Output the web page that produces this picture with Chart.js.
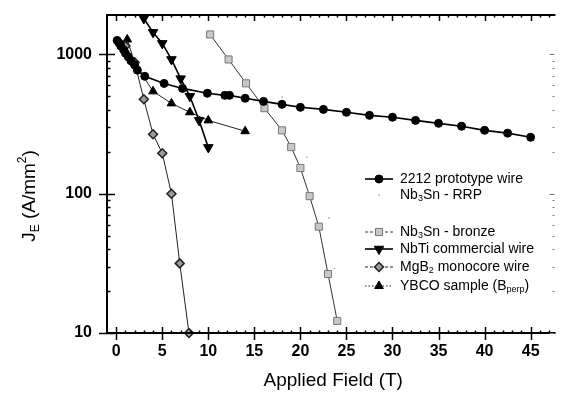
<!DOCTYPE html>
<html>
<head>
<meta charset="utf-8">
<script src="https://cdn.jsdelivr.net/npm/chart.js@4.4.1/dist/chart.umd.min.js"></script>
<style>
  html, body { margin: 0; padding: 0; background: #fff; }
  #wrap { width: 562px; height: 401px; position: relative; }
</style>
</head>
<body>
<div id="wrap"><canvas id="chartJe"></canvas></div>
<script>
// Valores: campo (T) y Je (A/mm2)
const fieldTicks = [0, 5, 10, 15, 20, 25, 30, 35, 40, 45];
const jeTicks = [10, 100, 1000];

const wire2212Field = [0.1, 0.3, 0.5, 0.8, 1.0, 1.3, 1.6, 2.0, 2.3, 3.1, 5.2, 7.2, 9.9, 11.8, 12.3, 14, 16, 18, 20, 22.5, 25, 27.5, 30, 32.5, 35, 37.5, 40, 42.5, 45];
const wire2212Je = [1260, 1210, 1150, 1080, 1020, 960, 900, 840, 770, 696, 619, 570, 526, 508, 508, 484, 460, 438, 417, 403, 384, 365, 354, 336, 320, 305, 285, 272, 254];

const rrpField = [18, 20.7, 23.1, 23.7, 24.1];
const rrpJe = [492, 183, 67, 29, 11.7];

const bronzeField = [10.2, 12.2, 14.1, 16.1, 18, 19, 20, 21, 22, 23, 24];
const bronzeJe = [1390, 920, 620, 411, 285, 216, 153, 96, 58, 26.5, 12.2];

const nbtiField = [3, 4, 5, 6, 7, 8, 9, 10];
const nbtiJe = [1810, 1440, 1200, 920, 670, 500, 336, 215];

const mgb2Field = [1, 2, 3, 4, 5, 6, 6.9, 7.9];
const mgb2Je = [1150, 876, 476, 267, 195, 100, 31.6, 10];

const ybcoField = [1.2, 2, 4, 6, 8, 10, 14];
const ybcoJe = [1280, 870, 543, 445, 384, 336, 281];

const FONT = 'Arial, "Liberation Sans", sans-serif';

function pts(xs, ys) {
    return xs.map((x, i) => ({ x: x, y: ys[i] }));
}

// texto con subíndices / superíndices: [texto, 'sub'|'sup'|null]
function drawRich(ctx, parts, x, y, size) {
    let cx = x;
    parts.forEach(function (p) {
        const small = p[1] ? Math.round(size * 0.62) : size;
        ctx.font = small + 'px ' + FONT;
        let dy = 0;
        if (p[1] === 'sub') dy = size * 0.28;
        if (p[1] === 'sup') dy = -size * 0.38;
        ctx.fillText(p[0], cx, y + dy);
        cx += ctx.measureText(p[0]).width;
    });
    return cx - x;
}
function richWidth(ctx, parts, size) {
    let w = 0;
    parts.forEach(function (p) {
        const small = p[1] ? Math.round(size * 0.62) : size;
        ctx.font = small + 'px ' + FONT;
        w += ctx.measureText(p[0]).width;
    });
    return w;
}

const datasets = [
    {
        label: '2212 prototype wire', data: pts(wire2212Field, wire2212Je),
        borderColor: '#000', backgroundColor: '#000', borderWidth: 1.6,
        pointStyle: 'circle', pointRadius: 4, pointBorderWidth: 1,
        legendDash: [], legendText: [['2212 prototype wire', null]]
    },
    {
        label: 'Nb3Sn - RRP', data: pts(rrpField, rrpJe), showLine: false,
        borderColor: '#bbb', backgroundColor: '#bbb', borderWidth: 0,
        pointStyle: 'circle', pointRadius: 1, pointBorderWidth: 0,
        legendNoLine: true, legendText: [['Nb', null], ['3', 'sub'], ['Sn - RRP', null]]
    },
    {
        label: 'Nb3Sn - bronze', data: pts(bronzeField, bronzeJe),
        borderColor: '#333', backgroundColor: '#c8c8c8', borderWidth: 1,
        pointStyle: 'rect', pointRadius: 5, pointBorderWidth: 1, pointBorderColor: '#777',
        legendDash: [3, 2], legendText: [['Nb', null], ['3', 'sub'], ['Sn - bronze', null]]
    },
    {
        label: 'NbTi commercial wire', data: pts(nbtiField, nbtiJe),
        borderColor: '#000', backgroundColor: '#000', borderWidth: 1.6,
        pointStyle: 'triangle', pointRotation: 180, pointRadius: 5.5, pointBorderWidth: 1,
        legendDash: [], legendText: [['NbTi commercial wire', null]]
    },
    {
        label: 'MgB2 monocore wire', data: pts(mgb2Field, mgb2Je),
        borderColor: '#222', backgroundColor: '#9a9a9a', borderWidth: 1,
        pointStyle: 'rectRot', pointRadius: 4.5, pointBorderWidth: 1.5, pointBorderColor: '#222',
        legendDash: [3, 2], legendText: [['MgB', null], ['2', 'sub'], [' monocore wire', null]]
    },
    {
        label: 'YBCO sample (Bperp)', data: pts(ybcoField, ybcoJe),
        borderColor: '#222', backgroundColor: '#000', borderWidth: 1,
        pointStyle: 'triangle', pointRadius: 5, pointBorderWidth: 1, pointBorderColor: '#000',
        legendDash: [1.5, 2], legendText: [['YBCO sample (B', null], ['perp', 'sub'], [')', null]]
    }
];
datasets.forEach(d => { d.clip = false; d.tension = 0; d.pointHoverRadius = d.pointRadius; });

// Ejes con marcas cruzadas, títulos y leyenda
const frame = {
    id: 'frame',
    afterDatasetsDraw(chart) {
        const { ctx, chartArea: { left, top, right, bottom } } = chart;
        const xs = chart.scales.x, ys = chart.scales.y;
        ctx.save();
        ctx.strokeStyle = '#000';

        // ejes izquierdo, inferior, superior
        ctx.lineWidth = 2;
        ctx.beginPath();
        ctx.moveTo(left, top); ctx.lineTo(left, bottom);
        ctx.moveTo(left, bottom); ctx.lineTo(right, bottom);
        ctx.moveTo(left, top + 1); ctx.lineTo(right, top + 1);
        ctx.stroke();

        // marcas eje x
        ctx.lineWidth = 1.5;
        for (let v = 0; v <= xs.max; v++) {
            const px = Math.round(xs.getPixelForValue(v)) + 0.5;
            ctx.beginPath();
            if (v % 5 === 0) {
                ctx.moveTo(px, bottom - 6); ctx.lineTo(px, bottom + 7);
                ctx.moveTo(px, top); ctx.lineTo(px, top + 7);
            } else {
                ctx.moveTo(px, bottom - 2.5); ctx.lineTo(px, bottom);
                ctx.moveTo(px, top); ctx.lineTo(px, top + 3.5);
            }
            ctx.stroke();
        }

        // marcas eje y (log); las de la derecha casi borradas como en el original
        for (let dec = 10; dec <= 1000; dec *= 10) {
            for (let m = 1; m <= 9; m++) {
                const v = dec * m;
                if (v > ys.max) break;
                const py = Math.round(ys.getPixelForValue(v)) + 0.5;
                ctx.strokeStyle = '#000';
                ctx.lineWidth = 1.5;
                ctx.beginPath();
                if (m === 1) {
                    ctx.moveTo(left - 8, py); ctx.lineTo(left + 8, py);
                } else {
                    ctx.moveTo(left, py); ctx.lineTo(left + 3.5, py);
                }
                ctx.stroke();
                ctx.strokeStyle = '#777';
                ctx.lineWidth = 1;
                ctx.beginPath();
                ctx.moveTo(right - (m === 1 ? 6 : 3), py); ctx.lineTo(right - 1, py);
                ctx.stroke();
            }
        }

        ctx.fillStyle = '#000';
        ctx.textBaseline = 'middle';

        // título eje x
        ctx.font = '19px ' + FONT;
        ctx.textAlign = 'center';
        ctx.fillText('Applied Field (T)', (left + right) / 2 + 2, 381);

        // título eje y
        const yTitle = [['J', null], ['E', 'sub'], [' (A/mm', null], ['2', 'sup'], [')', null]];
        ctx.save();
        ctx.translate(30, 196);
        ctx.rotate(-Math.PI / 2);
        ctx.textAlign = 'left';
        const tw = richWidth(ctx, yTitle, 19);
        drawRich(ctx, yTitle, -tw / 2, 0, 19);
        ctx.restore();

        // leyenda
        const rowsY = [179, 195, 232, 249, 267, 286];
        ctx.textAlign = 'left';
        chart.data.datasets.forEach(function (d, i) {
            const y = rowsY[i];
            if (!d.legendNoLine) {
                ctx.save();
                ctx.strokeStyle = d.borderColor;
                ctx.lineWidth = d.borderWidth;
                ctx.setLineDash(d.legendDash);
                ctx.beginPath();
                ctx.moveTo(365, y); ctx.lineTo(393, y);
                ctx.stroke();
                ctx.restore();
            }
            ctx.save();
            ctx.fillStyle = d.backgroundColor;
            ctx.strokeStyle = d.pointBorderColor || d.borderColor;
            ctx.lineWidth = d.pointBorderWidth;
            Chart.helpers.drawPoint(ctx, {
                pointStyle: d.pointStyle, radius: d.pointRadius,
                rotation: d.pointRotation || 0, borderWidth: d.pointBorderWidth
            }, 379, y);
            ctx.restore();
            ctx.fillStyle = '#000';
            drawRich(ctx, d.legendText, 400, y, 14);
        });
        ctx.restore();
    }
};

new Chart(document.getElementById('chartJe'), {
    type: 'line',
    data: { datasets: datasets },
    options: {
        responsive: true,
        maintainAspectRatio: false,
        animation: false,
        events: [],
        layout: { padding: { left: 0, top: 14, right: 0, bottom: 0 } },
        plugins: { legend: { display: false }, tooltip: { enabled: false } },
        scales: {
            x: {
                type: 'linear', min: -1, max: 47.7,
                grid: { display: false, drawTicks: false },
                border: { display: false },
                afterBuildTicks: s => { s.ticks = fieldTicks.map(v => ({ value: v })); },
                afterFit: s => { s.height = 68; s.paddingLeft = 0; s.paddingRight = 0; },
                ticks: {
                    autoSkip: false, maxRotation: 0, padding: 9, color: '#000',
                    font: { family: FONT, size: 16, weight: 'bold' },
                    callback: v => String(v)
                }
            },
            y: {
                type: 'logarithmic', min: 10, max: 1950,
                grid: { display: false, drawTicks: false },
                border: { display: false },
                afterBuildTicks: s => { s.ticks = jeTicks.map(v => ({ value: v })); },
                afterFit: s => { s.width = 107; s.paddingTop = 0; s.paddingBottom = 0; },
                ticks: {
                    autoSkip: false, padding: 15, color: '#000',
                    font: { family: FONT, size: 16, weight: 'bold' },
                    callback: v => String(v)
                }
            }
        }
    },
    plugins: [frame]
});
</script>
</body>
</html>
